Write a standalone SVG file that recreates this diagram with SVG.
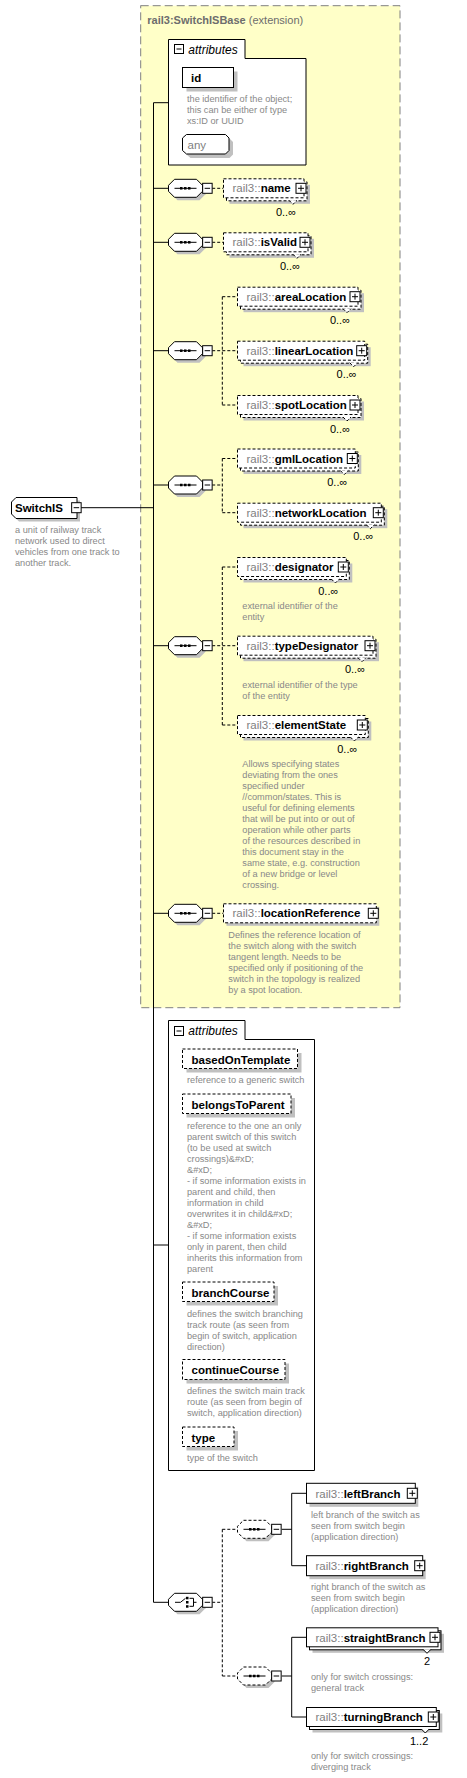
<svg xmlns="http://www.w3.org/2000/svg" width="467" height="1778" viewBox="0 0 467 1778">
<style>
.bx{fill:#fff;stroke:#000;stroke-width:1}
.dbx{fill:#fff;stroke:#000;stroke-width:1;stroke-dasharray:3,2}
.sh{fill:#c0c0c0;stroke:none}
.ln{stroke:#000;stroke-width:1;fill:none}
.dl{stroke:#000;stroke-width:1;fill:none;stroke-dasharray:3,2}
.pm{fill:#fff;stroke:#000;stroke-width:1}
.nm{font-family:"Liberation Sans",Arial,sans-serif;font-size:11.5px;font-weight:bold;fill:#000}
.pf{font-weight:normal;fill:#808080}
.ds{font-family:"Liberation Sans",Arial,sans-serif;font-size:9.2px;fill:#888}
.mu{font-family:"Liberation Sans",Arial,sans-serif;font-size:11px;fill:#000;text-anchor:end}
.at{font-family:"Liberation Sans",Arial,sans-serif;font-size:12px;font-style:italic;fill:#000}
.ti{font-family:"Liberation Sans",Arial,sans-serif;font-size:11px;fill:#6d6d6d}
</style>
<defs>
<g id="plus"><rect x="-5" y="-5" width="10" height="10" class="pm"/><path d="M-3,0H3M0,-3V3" class="ln"/></g>
<g id="minus"><rect x="-4.75" y="-5" width="9.5" height="10" class="pm"/><path d="M-2.75,0H2.75" class="ln"/></g>
<polygon id="oct" points="6,-9 28,-9 34,-3 34,3 28,9 6,9 0,3 0,-3"/>
<g id="seqdots"><path d="M6,0H28" class="ln"/><rect x="11.5" y="-1.25" width="2.5" height="2.5"/><rect x="15.5" y="-1.25" width="2.5" height="2.5"/><rect x="19.5" y="-1.25" width="2.5" height="2.5"/></g>
<g id="seq"><use href="#oct" x="3" y="3" class="sh"/><use href="#oct" class="bx"/><use href="#seqdots"/><use href="#minus" x="38.9" y="0"/></g>
<g id="seqopt"><use href="#oct" x="3" y="3" class="sh"/><use href="#oct" class="dbx"/><use href="#seqdots"/><use href="#minus" x="38.9" y="0"/></g>
</defs>

<g id="extension">
<rect x="140.7" y="5.7" width="259.3" height="1002" fill="#ffffc8" stroke="#808080" stroke-dasharray="8,4"/>
<text class="ti" x="147.3" y="24"><tspan font-weight="bold">rail3:SwitchISBase</tspan> (extension)</text>
</g>

<g id="connectors">
<path d="M153.5,102.7V1602.3" class="ln"/>
<path d="M81,507.7H153.5" class="ln"/>
<path d="M153.5,102.7H168.5M153.5,188.3H168.5M153.5,242.3H168.5M153.5,350.7H168.5M153.5,485H168.5M153.5,645.7H168.5M153.5,913.3H168.5M153.5,1245H168.5M153.5,1602.3H168.5" class="ln"/>
<path d="M212.2,188.3H223.5M212.2,242.3H223.5M212.2,913.3H223.5" class="dl"/>
<path d="M212.2,350.7H222.3M222.3,296.7V405M222.3,296.7H237.5M222.3,350.7H237.5M222.3,405H237.5" class="dl"/>
<path d="M212.2,485H222.3M222.3,458.5V512.7M222.3,458.5H237.5M222.3,512.7H237.5" class="dl"/>
<path d="M212.2,645.7H222.3M222.3,567V725M222.3,567H237.5M222.3,645.7H237.5M222.3,725H237.5" class="dl"/>
<path d="M212.2,1602.3H222.3M222.3,1529.3V1676M222.3,1529.3H237.5M222.3,1676H237.5" class="dl"/>
<path d="M281.7,1529.3H291.7M291.7,1493.3V1565.7M291.7,1493.3H306.5M291.7,1565.7H306.5" class="ln"/>
<path d="M281.7,1676H291.7M291.7,1637.3V1717M291.7,1637.3H306.5M291.7,1717H306.5" class="ln"/>
</g>

<g id="SwitchIS">
<path d="M19,500.5H80V521.5H19L14.5,517V505Z" class="sh"/>
<path d="M16,497.5H77V518.5H16L11.5,514V502Z" class="bx"/>
<text class="nm" x="15" y="512">SwitchIS</text>
<use href="#minus" x="76.4" y="507.7"/>
<text class="ds" x="15" y="532.7">a unit of railway track</text>
<text class="ds" x="15" y="543.7">network used to direct</text>
<text class="ds" x="15" y="554.7">vehicles from one track to</text>
<text class="ds" x="15" y="565.7">another track.</text>
</g>

<g id="attributes1">
<path d="M168.5,39.5H245V58.5H306V165H168.5Z" class="bx"/>
<rect x="174.5" y="44.5" width="9" height="9" class="pm"/><path d="M176.5,49H181.5" class="ln"/>
<text class="at" x="188.3" y="53.7">attributes</text>
<g id="attr-id">
<rect x="186.5" y="71.5" width="51" height="20" class="sh"/>
<rect x="182.5" y="67.5" width="51" height="20" class="bx"/>
<text class="nm" x="191" y="82">id</text>
<text class="ds" x="187" y="102">the identifier of the object;</text>
<text class="ds" x="187" y="113">this can be either of type</text>
<text class="ds" x="187" y="124">xs:ID or UUID</text>
</g>
<g id="attr-any">
<polygon points="190.5,138.5 229.5,138.5 233,142 233,154.5 229.5,158 190.5,158 186.5,154.5 186.5,142" class="sh"/>
<polygon points="186.5,134.5 225.5,134.5 229,138 229,150.5 225.5,154 186.5,154 182.5,150.5 182.5,138" class="bx"/>
<text x="187.5" y="149" font-family="Liberation Sans, Arial, sans-serif" font-size="11.5" fill="#808080">any</text>
</g>
</g>

<g id="seq1"><use href="#seq" x="168.5" y="188.3"/></g>
<g id="name">
<rect x="229.5" y="184.8" width="80.5" height="19" class="sh"/>
<rect x="226.5" y="181.8" width="80.5" height="19" class="dbx"/>
<rect x="223.5" y="178.8" width="80.5" height="19" class="dbx"/>
<use href="#plus" x="301" y="188.3"/>
<polyline points="289,200.3 293,204.3 297,200.3" class="dbx"/>
<text class="nm" x="232.5" y="192.3"><tspan class="pf">rail3::</tspan>name</text>
<text class="mu" x="296" y="215.8">0..∞</text>
</g>

<g id="seq2"><use href="#seq" x="168.5" y="242.3"/></g>
<g id="isValid">
<rect x="229.5" y="238.8" width="84.5" height="19" class="sh"/>
<rect x="226.5" y="235.8" width="84.5" height="19" class="dbx"/>
<rect x="223.5" y="232.8" width="84.5" height="19" class="dbx"/>
<use href="#plus" x="305" y="242.3"/>
<polyline points="293,254.3 297,258.3 301,254.3" class="dbx"/>
<text class="nm" x="232.5" y="246.3"><tspan class="pf">rail3::</tspan>isValid</text>
<text class="mu" x="300" y="269.8">0..∞</text>
</g>

<g id="seq3"><use href="#seq" x="168.5" y="350.7"/></g>
<g id="areaLocation">
<rect x="243.5" y="293.2" width="120.5" height="19" class="sh"/>
<rect x="240.5" y="290.2" width="120.5" height="19" class="dbx"/>
<rect x="237.5" y="287.2" width="120.5" height="19" class="dbx"/>
<use href="#plus" x="355" y="296.7"/>
<polyline points="343,308.7 347,312.7 351,308.7" class="dbx"/>
<text class="nm" x="246.5" y="300.7"><tspan class="pf">rail3::</tspan>areaLocation</text>
<text class="mu" x="350" y="324.2">0..∞</text>
</g>
<g id="linearLocation">
<rect x="243.5" y="347.2" width="127.2" height="19" class="sh"/>
<rect x="240.5" y="344.2" width="127.2" height="19" class="dbx"/>
<rect x="237.5" y="341.2" width="127.2" height="19" class="dbx"/>
<use href="#plus" x="361.7" y="350.7"/>
<polyline points="349.7,362.7 353.7,366.7 357.7,362.7" class="dbx"/>
<text class="nm" x="246.5" y="354.7"><tspan class="pf">rail3::</tspan>linearLocation</text>
<text class="mu" x="356.7" y="378.2">0..∞</text>
</g>
<g id="spotLocation">
<rect x="243.5" y="401.5" width="120.5" height="19" class="sh"/>
<rect x="240.5" y="398.5" width="120.5" height="19" class="dbx"/>
<rect x="237.5" y="395.5" width="120.5" height="19" class="dbx"/>
<use href="#plus" x="355" y="405"/>
<polyline points="343,417 347,421 351,417" class="dbx"/>
<text class="nm" x="246.5" y="409"><tspan class="pf">rail3::</tspan>spotLocation</text>
<text class="mu" x="350" y="432.5">0..∞</text>
</g>

<g id="seq4"><use href="#seq" x="168.5" y="485"/></g>
<g id="gmlLocation">
<rect x="243.5" y="455" width="117.8" height="19" class="sh"/>
<rect x="240.5" y="452" width="117.8" height="19" class="dbx"/>
<rect x="237.5" y="449" width="117.8" height="19" class="dbx"/>
<use href="#plus" x="352.3" y="458.5"/>
<polyline points="340.3,470.5 344.3,474.5 348.3,470.5" class="dbx"/>
<text class="nm" x="246.5" y="462.5"><tspan class="pf">rail3::</tspan>gmlLocation</text>
<text class="mu" x="347.3" y="486">0..∞</text>
</g>
<g id="networkLocation">
<rect x="243.5" y="509.2" width="143.8" height="19" class="sh"/>
<rect x="240.5" y="506.2" width="143.8" height="19" class="dbx"/>
<rect x="237.5" y="503.2" width="143.8" height="19" class="dbx"/>
<use href="#plus" x="378.3" y="512.7"/>
<polyline points="366.3,524.7 370.3,528.7 374.3,524.7" class="dbx"/>
<text class="nm" x="246.5" y="516.7"><tspan class="pf">rail3::</tspan>networkLocation</text>
<text class="mu" x="373.3" y="540.2">0..∞</text>
</g>

<g id="seq5"><use href="#seq" x="168.5" y="645.7"/></g>
<g id="designator">
<rect x="243.5" y="563.5" width="108.8" height="19" class="sh"/>
<rect x="240.5" y="560.5" width="108.8" height="19" class="dbx"/>
<rect x="237.5" y="557.5" width="108.8" height="19" class="dbx"/>
<use href="#plus" x="343.3" y="567"/>
<polyline points="331.3,579 335.3,583 339.3,579" class="dbx"/>
<text class="nm" x="246.5" y="571"><tspan class="pf">rail3::</tspan>designator</text>
<text class="mu" x="338.3" y="594.5">0..∞</text>
<text class="ds" x="242.3" y="609.3">external identifier of the</text>
<text class="ds" x="242.3" y="620.3">entity</text>
</g>
<g id="typeDesignator">
<rect x="243.5" y="642.2" width="135.5" height="19" class="sh"/>
<rect x="240.5" y="639.2" width="135.5" height="19" class="dbx"/>
<rect x="237.5" y="636.2" width="135.5" height="19" class="dbx"/>
<use href="#plus" x="370" y="645.7"/>
<polyline points="358,657.7 362,661.7 366,657.7" class="dbx"/>
<text class="nm" x="246.5" y="649.7"><tspan class="pf">rail3::</tspan>typeDesignator</text>
<text class="mu" x="365" y="673.2">0..∞</text>
<text class="ds" x="242.3" y="688.3">external identifier of the type</text>
<text class="ds" x="242.3" y="699.3">of the entity</text>
</g>
<g id="elementState">
<rect x="243.5" y="721.5" width="127.8" height="19" class="sh"/>
<rect x="240.5" y="718.5" width="127.8" height="19" class="dbx"/>
<rect x="237.5" y="715.5" width="127.8" height="19" class="dbx"/>
<use href="#plus" x="362.3" y="725"/>
<polyline points="350.3,737 354.3,741 358.3,737" class="dbx"/>
<text class="nm" x="246.5" y="729"><tspan class="pf">rail3::</tspan>elementState</text>
<text class="mu" x="357.3" y="752.5">0..∞</text>
<text class="ds" x="242.3" y="767.3">Allows specifying states</text>
<text class="ds" x="242.3" y="778.3">deviating from the ones</text>
<text class="ds" x="242.3" y="789.3">specified under</text>
<text class="ds" x="242.3" y="800.3">//common/states. This is</text>
<text class="ds" x="242.3" y="811.3">useful for defining elements</text>
<text class="ds" x="242.3" y="822.3">that will be put into or out of</text>
<text class="ds" x="242.3" y="833.3">operation while other parts</text>
<text class="ds" x="242.3" y="844.3">of the resources described in</text>
<text class="ds" x="242.3" y="855.3">this document stay in the</text>
<text class="ds" x="242.3" y="866.3">same state, e.g. construction</text>
<text class="ds" x="242.3" y="877.3">of a new bridge or level</text>
<text class="ds" x="242.3" y="888.3">crossing.</text>
</g>

<g id="seq6"><use href="#seq" x="168.5" y="913.3"/></g>
<g id="locationReference">
<rect x="226.5" y="906.8" width="152.8" height="19" class="sh"/>
<rect x="223.5" y="903.8" width="152.8" height="19" class="dbx"/>
<use href="#plus" x="373.3" y="913.3"/>
<text class="nm" x="232.5" y="917.3"><tspan class="pf">rail3::</tspan>locationReference</text>
<text class="ds" x="228.3" y="938.3">Defines the reference location of</text>
<text class="ds" x="228.3" y="949.3">the switch along with the switch</text>
<text class="ds" x="228.3" y="960.3">tangent length. Needs to be</text>
<text class="ds" x="228.3" y="971.3">specified only if positioning of the</text>
<text class="ds" x="228.3" y="982.3">switch in the topology is realized</text>
<text class="ds" x="228.3" y="993.3">by a spot location.</text>
</g>

<g id="attributes2">
<path d="M168.5,1020.5H245V1039.5H314.5V1470.5H168.5Z" class="bx"/>
<rect x="174.5" y="1026.5" width="9" height="9" class="pm"/><path d="M176.5,1031H181.5" class="ln"/>
<text class="at" x="188.3" y="1035">attributes</text>
<g id="attr-basedOnTemplate">
<rect x="186.5" y="1053" width="115" height="19.5" class="sh"/>
<rect x="182.5" y="1049" width="115" height="19.5" class="dbx"/>
<text class="nm" x="191.5" y="1063.5">basedOnTemplate</text>
<text class="ds" x="187" y="1083.3">reference to a generic switch</text>
</g>
<g id="attr-belongsToParent">
<rect x="186.5" y="1098" width="108.5" height="19.5" class="sh"/>
<rect x="182.5" y="1094" width="108.5" height="19.5" class="dbx"/>
<text class="nm" x="191.5" y="1108.5">belongsToParent</text>
<text class="ds" x="187" y="1129">reference to the one an only</text>
<text class="ds" x="187" y="1140">parent switch of this switch</text>
<text class="ds" x="187" y="1151">(to be used at switch</text>
<text class="ds" x="187" y="1162">crossings)&amp;#xD;</text>
<text class="ds" x="187" y="1173">&amp;#xD;</text>
<text class="ds" x="187" y="1184">- if some information exists in</text>
<text class="ds" x="187" y="1195">parent and child, then</text>
<text class="ds" x="187" y="1206">information in child</text>
<text class="ds" x="187" y="1217">overwrites it in child&amp;#xD;</text>
<text class="ds" x="187" y="1228">&amp;#xD;</text>
<text class="ds" x="187" y="1239">- if some information exists</text>
<text class="ds" x="187" y="1250">only in parent, then child</text>
<text class="ds" x="187" y="1261">inherits this information from</text>
<text class="ds" x="187" y="1272">parent</text>
</g>
<g id="attr-branchCourse">
<rect x="186.5" y="1286" width="91.5" height="19.5" class="sh"/>
<rect x="182.5" y="1282" width="91.5" height="19.5" class="dbx"/>
<text class="nm" x="191.5" y="1296.5">branchCourse</text>
<text class="ds" x="187" y="1316.7">defines the switch branching</text>
<text class="ds" x="187" y="1327.7">track route (as seen from</text>
<text class="ds" x="187" y="1338.7">begin of switch, application</text>
<text class="ds" x="187" y="1349.7">direction)</text>
</g>
<g id="attr-continueCourse">
<rect x="186.5" y="1363.5" width="102.5" height="20" class="sh"/>
<rect x="182.5" y="1359.5" width="102.5" height="20" class="dbx"/>
<text class="nm" x="191.5" y="1374">continueCourse</text>
<text class="ds" x="187" y="1394.3">defines the switch main track</text>
<text class="ds" x="187" y="1405.3">route (as seen from begin of</text>
<text class="ds" x="187" y="1416.3">switch, application direction)</text>
</g>
<g id="attr-type">
<rect x="186.5" y="1431" width="51.5" height="19.5" class="sh"/>
<rect x="182.5" y="1427" width="51.5" height="19.5" class="dbx"/>
<text class="nm" x="191.5" y="1441.5">type</text>
<text class="ds" x="187" y="1461">type of the switch</text>
</g>
</g>

<g id="choice">
<use href="#oct" x="171.5" y="1605.3" class="sh"/>
<use href="#oct" x="168.5" y="1602.3" class="bx"/>
<path d="M175,1602.3H180.5L185.5,1598.3M189.5,1598.3H193.5V1606.3H189.5M193.5,1602.3H196.5" class="ln"/>
<rect x="186" y="1596.8" width="2.5" height="2.5"/><rect x="186" y="1601" width="2.5" height="2.5"/><rect x="186" y="1605.2" width="2.5" height="2.5"/>
<use href="#minus" x="207.4" y="1602.3"/>
</g>

<g id="seq7"><use href="#seqopt" x="237.5" y="1529.3"/></g>
<g id="leftBranch">
<rect x="309.5" y="1486.8" width="108.8" height="20" class="sh"/>
<rect x="306.5" y="1483.3" width="108.8" height="20" class="bx"/>
<use href="#plus" x="412.3" y="1493.3"/>
<text class="nm" x="315.5" y="1497.5"><tspan class="pf">rail3::</tspan>leftBranch</text>
<text class="ds" x="311" y="1518.3">left branch of the switch as</text>
<text class="ds" x="311" y="1529.3">seen from switch begin</text>
<text class="ds" x="311" y="1540.3">(application direction)</text>
</g>
<g id="rightBranch">
<rect x="309.5" y="1559.2" width="116.2" height="20" class="sh"/>
<rect x="306.5" y="1555.7" width="116.2" height="20" class="bx"/>
<use href="#plus" x="419.7" y="1565.7"/>
<text class="nm" x="315.5" y="1569.9"><tspan class="pf">rail3::</tspan>rightBranch</text>
<text class="ds" x="311" y="1590">right branch of the switch as</text>
<text class="ds" x="311" y="1601">seen from switch begin</text>
<text class="ds" x="311" y="1612">(application direction)</text>
</g>

<g id="seq8"><use href="#seqopt" x="237.5" y="1676"/></g>
<g id="straightBranch">
<rect x="312.5" y="1633.8" width="131.5" height="19" class="sh"/>
<rect x="309.5" y="1630.8" width="131.5" height="19" class="bx"/>
<rect x="306.5" y="1627.8" width="131.5" height="19" class="bx"/>
<use href="#plus" x="435" y="1637.3"/>
<polyline points="423,1649.3 427,1653.3 431,1649.3" class="bx"/>
<text class="nm" x="315.5" y="1641.5"><tspan class="pf">rail3::</tspan>straightBranch</text>
<text class="mu" x="430" y="1664.8">2</text>
<text class="ds" x="311" y="1680">only for switch crossings:</text>
<text class="ds" x="311" y="1691">general track</text>
</g>
<g id="turningBranch">
<rect x="312.5" y="1713.5" width="129.8" height="19" class="sh"/>
<rect x="309.5" y="1710.5" width="129.8" height="19" class="bx"/>
<rect x="306.5" y="1707.5" width="129.8" height="19" class="bx"/>
<use href="#plus" x="433.3" y="1717"/>
<polyline points="421.3,1729 425.3,1733 429.3,1729" class="bx"/>
<text class="nm" x="315.5" y="1721.2"><tspan class="pf">rail3::</tspan>turningBranch</text>
<text class="mu" x="428.3" y="1744.5">1..2</text>
<text class="ds" x="311" y="1759.3">only for switch crossings:</text>
<text class="ds" x="311" y="1770.3">diverging track</text>
</g>
</svg>
